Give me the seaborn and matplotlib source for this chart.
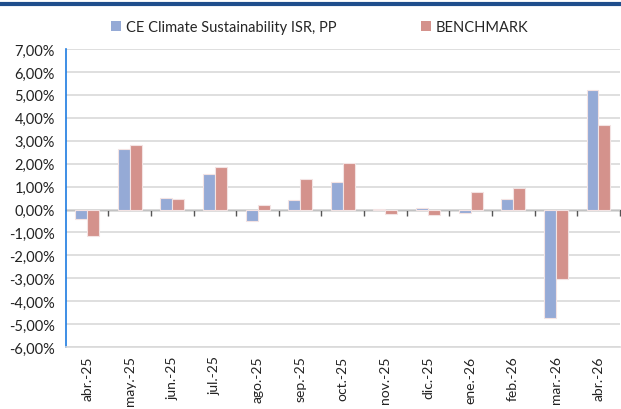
import pandas as pd
import numpy as np
import matplotlib.pyplot as plt
import seaborn as sns

# Monthly returns (%)
months = ['abr.-25', 'may.-25', 'jun.-25', 'jul.-25', 'ago.-25', 'sep.-25', 'oct.-25',
          'nov.-25', 'dic.-25', 'ene.-26', 'feb.-26', 'mar.-26', 'abr.-26']
fund = [-0.40, 2.65, 0.50, 1.55, -0.50, 0.40, 1.22, 0.03, 0.07, -0.17, 0.47, -4.75, 5.22]
benchmark = [-1.17, 2.80, 0.45, 1.85, 0.20, 1.32, 2.03, -0.20, -0.25, 0.77, 0.94, -3.05, 3.70]
series_names = ['CE Climate Sustainability ISR, PP', 'BENCHMARK']
y_ticks = list(range(-6, 8))

df = pd.DataFrame({'month': months * 2,
                   'value': fund + benchmark,
                   'serie': [series_names[0]] * len(months) + [series_names[1]] * len(months)})

sns.set_style('white')
plt.rcParams['font.family'] = ['Lato', 'DejaVu Sans']

fig = plt.figure(figsize=(6.21, 4.10), dpi=100)
ax = fig.add_axes([0.106, 0.151, 0.892, 0.727])

sns.barplot(data=df, x='month', y='value', hue='serie',
            palette=['#95AAD6', '#D4928C'], width=0.56, ax=ax,
            edgecolor='#F3E3E3', linewidth=0.8, saturation=1)

ax.set_ylim(-6, 7)
ax.set_xlim(-0.5, len(months) - 0.5)
ax.set_yticks(y_ticks)
ax.set_yticklabels([f'{v:.2f}%'.replace('.', ',') for v in y_ticks], fontsize=10.5, color='#222222')
ax.yaxis.grid(True, color='#D9D9D9', linewidth=1.2)
ax.set_axisbelow(True)
ax.set_xlabel('')
ax.set_ylabel('')

ax.tick_params(axis='x', length=0, pad=6, labelsize=10, labelrotation=90, labelcolor='#222222')
ax.tick_params(axis='y', length=4, width=1, color='#1E7BE0', direction='out', pad=4)
for s in ['top', 'right']:
    ax.spines[s].set_visible(False)
ax.spines['left'].set_color('#1E7BE0')
ax.spines['left'].set_linewidth(1.2)
ax.spines['bottom'].set_color('#D9D9D9')
ax.spines['bottom'].set_linewidth(1.2)

# horizontal axis line at 0 with ticks between categories
zero_axis = ax.secondary_xaxis(6 / 13)
zero_axis.set_xticks(np.arange(len(months)) + 0.5)
zero_axis.set_xticklabels([])
zero_axis.tick_params(length=4, width=1, color='#555555', direction='out')
zero_axis.spines['bottom'].set_color('#555555')
zero_axis.spines['bottom'].set_linewidth(1.0)

leg = ax.legend(loc='center', bbox_to_anchor=(0.458, 1.073), ncol=2, frameon=False,
                fontsize=10.5, handlelength=0.7, handleheight=0.7, handletextpad=0.3,
                columnspacing=5.8)
for h in leg.legend_handles:
    h.set_edgecolor('none')

# dark blue rule at the top
fig.add_artist(plt.Line2D([0, 1], [0.988, 0.988], color='#1F4E8C', linewidth=3,
                          transform=fig.transFigure))

fig.savefig('out.png', dpi=100)
